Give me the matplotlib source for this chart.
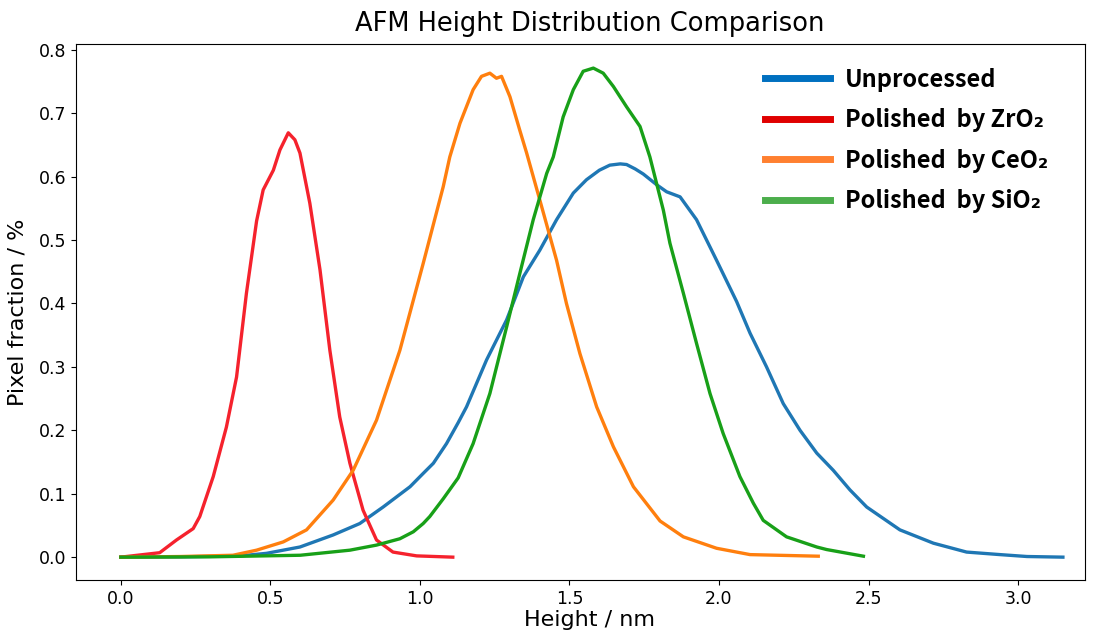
import matplotlib
matplotlib.use('Agg')
import matplotlib.pyplot as plt
from matplotlib.lines import Line2D

# digitised height distributions (height in nm, pixel fraction in %)
unproc_x = [0.0, 0.2, 0.4, 0.487, 0.599, 0.71, 0.799, 0.877, 0.967, 1.011, 1.045,
            1.089, 1.128, 1.156, 1.223, 1.29, 1.346, 1.401, 1.457, 1.513, 1.557,
            1.6, 1.635, 1.67, 1.691, 1.72, 1.747, 1.792, 1.825, 1.87, 1.925,
            1.992, 2.059, 2.104, 2.159, 2.215, 2.271, 2.327, 2.382, 2.438, 2.494,
            2.605, 2.717, 2.828, 2.94, 3.03, 3.15]
unproc_y = [0.0, 0.0005, 0.002, 0.006, 0.016, 0.035, 0.053, 0.079, 0.111, 0.132,
            0.148, 0.179, 0.212, 0.237, 0.311, 0.374, 0.442, 0.484, 0.532, 0.574,
            0.595, 0.61, 0.618, 0.62, 0.619, 0.612, 0.604, 0.587, 0.576, 0.568,
            0.532, 0.468, 0.403, 0.353, 0.3, 0.242, 0.2, 0.164, 0.137, 0.106,
            0.079, 0.043, 0.022, 0.008, 0.004, 0.001, 0.0]

zro2_x = [0.0, 0.13, 0.186, 0.242, 0.264, 0.309, 0.353, 0.387, 0.42, 0.454, 0.476,
          0.51, 0.532, 0.56, 0.582, 0.599, 0.632, 0.666, 0.699, 0.732, 0.766,
          0.81, 0.855, 0.91, 0.989, 1.11]
zro2_y = [0.0, 0.007, 0.027, 0.045, 0.064, 0.127, 0.205, 0.284, 0.416, 0.53, 0.579,
          0.61, 0.642, 0.669, 0.658, 0.637, 0.558, 0.453, 0.326, 0.221, 0.148,
          0.074, 0.027, 0.008, 0.002, 0.0]

ceo2_x = [0.0, 0.2, 0.375, 0.454, 0.543, 0.621, 0.71, 0.777, 0.855, 0.933, 1.011,
          1.078, 1.1, 1.134, 1.178, 1.206, 1.234, 1.256, 1.273, 1.301, 1.334,
          1.357, 1.401, 1.457, 1.49, 1.535, 1.591, 1.647, 1.714, 1.803, 1.881,
          1.992, 2.104, 2.332]
ceo2_y = [0.0, 0.001, 0.003, 0.011, 0.024, 0.043, 0.09, 0.137, 0.216, 0.326, 0.463,
          0.584, 0.631, 0.684, 0.737, 0.758, 0.763, 0.755, 0.758, 0.726, 0.673,
          0.637, 0.563, 0.468, 0.4, 0.321, 0.237, 0.174, 0.111, 0.057, 0.032,
          0.014, 0.004, 0.0015]

sio2_x = [0.0, 0.3, 0.6, 0.766, 0.855, 0.933, 0.978, 1.011, 1.033, 1.078, 1.128,
          1.178, 1.234, 1.29, 1.334, 1.379, 1.424, 1.446, 1.479, 1.513, 1.546,
          1.58, 1.613, 1.647, 1.691, 1.736, 1.769, 1.814, 1.836, 1.881, 1.925,
          1.97, 2.014, 2.07, 2.115, 2.148, 2.226, 2.327, 2.36, 2.483]
sio2_y = [0.0, 0.0005, 0.003, 0.011, 0.019, 0.029, 0.04, 0.053, 0.064, 0.092, 0.125,
          0.179, 0.258, 0.363, 0.447, 0.532, 0.605, 0.631, 0.694, 0.737, 0.766,
          0.771, 0.763, 0.742, 0.71, 0.679, 0.631, 0.547, 0.495, 0.416, 0.337,
          0.258, 0.195, 0.127, 0.085, 0.058, 0.032, 0.016, 0.012, 0.0015]

labels = ['Unprocessed', 'Polished  by ZrO\u2082', 'Polished  by CeO\u2082',
          'Polished  by SiO\u2082']
line_colors = ['#1f77b4', '#f5222d', '#ff7f0e', '#18a018']
legend_colors = ['#0070c0', '#e00000', '#ff8030', '#4cae4c']

fig = plt.figure(figsize=(10.96, 6.34), dpi=100)
ax = fig.add_axes([0.0693, 0.0852, 0.9207, 0.8454])

series = [(unproc_x, unproc_y), (zro2_x, zro2_y), (ceo2_x, ceo2_y), (sio2_x, sio2_y)]
for (xs, ys), c in zip(series, line_colors):
    ax.plot(xs, ys, color=c, lw=2.4, solid_joinstyle='round')

ax.set_xlim(-0.15, 3.224)
ax.set_ylim(-0.036, 0.809)
ax.set_xticks([0.0, 0.5, 1.0, 1.5, 2.0, 2.5, 3.0])
ax.set_yticks([0.0, 0.1, 0.2, 0.3, 0.4, 0.5, 0.6, 0.7, 0.8])
ax.tick_params(axis='y', labelsize=12.5)
ax.tick_params(axis='x', labelsize=12.5)

ax.set_xlabel('Height / nm', fontsize=16, labelpad=2, x=0.509)
ax.set_ylabel('Pixel fraction / %', fontsize=16, labelpad=8)
ax.set_title('AFM Height Distribution Comparison', fontsize=18.5, pad=9, x=0.509)

handles = [Line2D([], [], color=c, lw=5) for c in legend_colors]
ax.legend(handles, labels, loc='upper left', bbox_to_anchor=(0.683, 0.956),
          frameon=False, borderpad=0, borderaxespad=0,
          handlelength=2.75, handletextpad=0.64, labelspacing=0.70,
          prop={'family': ['Noto Sans CJK SC', 'DejaVu Sans'], 'weight': 'bold',
                'size': 17})

fig.savefig('out.png', dpi=100)
